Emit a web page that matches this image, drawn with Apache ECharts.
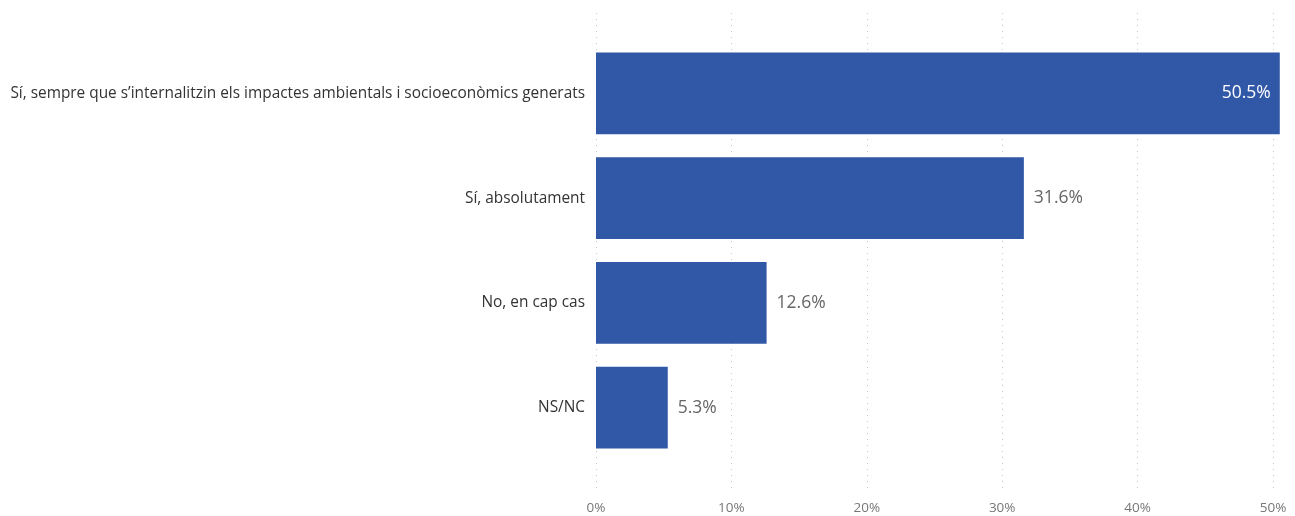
<!DOCTYPE html>
<html><head><meta charset="utf-8">
<script src="https://cdn.jsdelivr.net/npm/echarts@6/dist/echarts.min.js"></script>
<style>html,body{margin:0;padding:0;background:#fff}#c{width:1295px;height:516px}</style>
</head><body><div id="c"></div>
<script>
const categories = ["Sí, sempre que s’internalitzin els impactes ambientals i socioeconòmics generats", "Sí, absolutament", "No, en cap cas", "NS/NC"];
const values = [50.5, 31.6, 12.6, 5.3];
const tickValues = [0, 10, 20, 30, 40, 50];

const font = "'Segoe UI', 'Open Sans', 'Noto Sans', sans-serif";
const chart = echarts.init(document.getElementById('c'));
chart.setOption({
  animation: false,
  grid: [
    {left: 596, right: 22, top: 13, bottom: 23, containLabel: false},
    {left: 596, right: 22, top: 41, bottom: 56, containLabel: false}
  ],
  xAxis: [
    {gridIndex: 0, type: 'value', min: tickValues[0], max: tickValues[tickValues.length - 1], interval: 10,
     axisLine: {show: false}, axisTick: {show: false},
     axisLabel: {formatter: v => v + '%', color: '#777', fontSize: 13.5, fontFamily: font, margin: 8},
     splitLine: {show: true, lineStyle: {color: '#c8c8c8', type: [1, 5], width: 1}}},
    {gridIndex: 1, type: 'value', min: tickValues[0], max: tickValues[tickValues.length - 1], interval: 10, show: false,
     splitLine: {show: false}}
  ],
  yAxis: [
    {gridIndex: 0, type: 'value', show: false},
    {gridIndex: 1, type: 'category', data: categories, inverse: true,
     axisLine: {show: false}, axisTick: {show: false},
     axisLabel: {color: '#333', fontSize: 15.4, fontFamily: font, margin: 11}}
  ],
  series: [{
    type: 'bar', xAxisIndex: 1, yAxisIndex: 1, clip: false,
    barCategoryGap: '22%',
    data: values.map((v, i) => ({
      value: v,
      label: i === 0 ? {position: 'insideRight', color: '#fff', distance: 9} : {position: 'right', color: '#666', distance: 10}
    })),
    itemStyle: {color: '#3157A7'},
    label: {show: true, fontSize: 17.5, fontFamily: font, formatter: p => p.value.toFixed(1) + '%'}
  }]
});
</script></body></html>
